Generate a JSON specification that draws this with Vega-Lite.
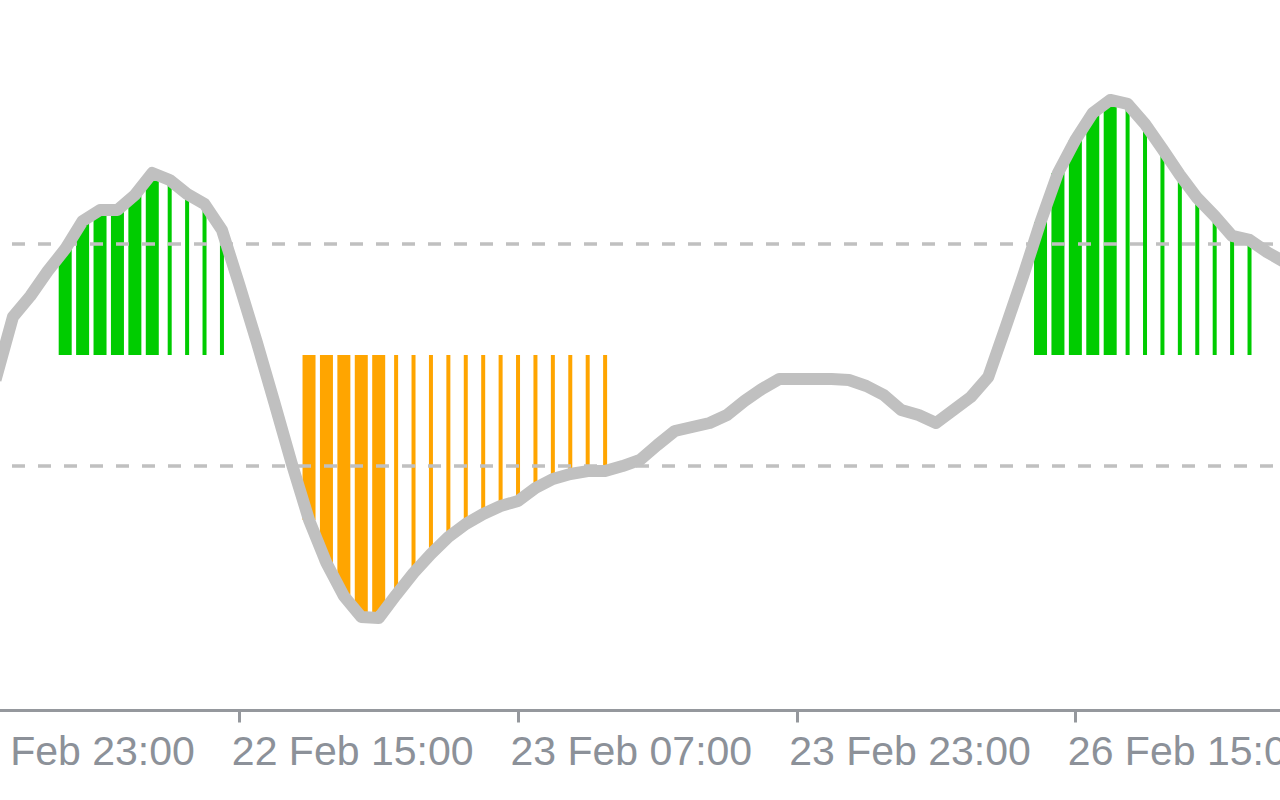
{
  "$schema": "https://vega.github.io/schema/vega-lite/v6.json",
  "width": 1280,
  "height": 710,
  "autosize": {"type": "none"},
  "padding": {"left": 0, "top": 0, "right": 0, "bottom": 90},
  "background": "#ffffff",
  "config": {
    "view": {"stroke": null},
    "axisX": {
      "title": null,
      "grid": false,
      "domainColor": "#95989d",
      "domainWidth": 3,
      "tickColor": "#95989d",
      "tickWidth": 3,
      "tickSize": 12,
      "labelFont": "Liberation Sans",
      "labelFontSize": 41,
      "labelColor": "#8c9199",
      "labelAlign": "left",
      "labelBaseline": "top",
      "labelOffset": -8,
      "labelPadding": 10,
      "labelLimit": 0,
      "labelFlush": false,
      "labelOverlap": false,
      "labelBound": false
    }
  },
  "datasets": {
    "osc": [
      {"k": -14, "v": -22.5},
      {"k": -13, "v": 34.3},
      {"k": -12, "v": 53.2},
      {"k": -11, "v": 75.7},
      {"k": -10, "v": 95.5, "sig": "up", "w": "thick"},
      {"k": -9, "v": 120.8, "sig": "up", "w": "thick"},
      {"k": -8, "v": 130.7, "sig": "up", "w": "thick"},
      {"k": -7, "v": 130.7, "sig": "up", "w": "thick"},
      {"k": -6, "v": 144.2, "sig": "up", "w": "thick"},
      {"k": -5, "v": 164.1, "sig": "up", "w": "thick"},
      {"k": -4, "v": 157.7, "sig": "up", "w": "thin"},
      {"k": -3, "v": 145.1, "sig": "up", "w": "thin"},
      {"k": -2, "v": 136.1, "sig": "up", "w": "thin"},
      {"k": -1, "v": 112.7, "sig": "up", "w": "thin"},
      {"k": 0, "v": 63.1},
      {"k": 1, "v": 11.7},
      {"k": 2, "v": -42.4},
      {"k": 3, "v": -97.4},
      {"k": 4, "v": -148.7, "sig": "down", "w": "thick"},
      {"k": 5, "v": -187.5, "sig": "down", "w": "thick"},
      {"k": 6, "v": -217.2, "sig": "down", "w": "thick"},
      {"k": 7, "v": -236.2, "sig": "down", "w": "thick"},
      {"k": 8, "v": -237.1, "sig": "down", "w": "thick"},
      {"k": 9, "v": -216.3, "sig": "down", "w": "thin"},
      {"k": 10, "v": -196.5, "sig": "down", "w": "thin"},
      {"k": 11, "v": -179.4, "sig": "down", "w": "thin"},
      {"k": 12, "v": -164.1, "sig": "down", "w": "thin"},
      {"k": 13, "v": -152.3, "sig": "down", "w": "thin"},
      {"k": 14, "v": -143.3, "sig": "down", "w": "thin"},
      {"k": 15, "v": -136.1, "sig": "down", "w": "thin"},
      {"k": 16, "v": -131.6, "sig": "down", "w": "thin"},
      {"k": 17, "v": -119.9, "sig": "down", "w": "thin"},
      {"k": 18, "v": -111.8, "sig": "down", "w": "thin"},
      {"k": 19, "v": -107.3, "sig": "down", "w": "thin"},
      {"k": 20, "v": -104.6, "sig": "down", "w": "thin"},
      {"k": 21, "v": -104.6, "sig": "down", "w": "thin"},
      {"k": 22, "v": -100.1},
      {"k": 23, "v": -94.6},
      {"k": 24, "v": -81.1},
      {"k": 25, "v": -68.5},
      {"k": 26, "v": -64.9},
      {"k": 27, "v": -61.3},
      {"k": 28, "v": -54.1},
      {"k": 29, "v": -41.5},
      {"k": 30, "v": -30.6},
      {"k": 31, "v": -21.6},
      {"k": 32, "v": -21.6},
      {"k": 33, "v": -21.6},
      {"k": 34, "v": -21.6},
      {"k": 35, "v": -22.5},
      {"k": 36, "v": -27.9},
      {"k": 37, "v": -36.1},
      {"k": 38, "v": -49.6},
      {"k": 39, "v": -54.1},
      {"k": 40, "v": -61.3},
      {"k": 41, "v": -49.6},
      {"k": 42, "v": -37.9},
      {"k": 43, "v": -19.8},
      {"k": 44, "v": 25.2},
      {"k": 45, "v": 71.2},
      {"k": 46, "v": 119.9, "sig": "up", "w": "thick"},
      {"k": 47, "v": 164.1, "sig": "up", "w": "thick"},
      {"k": 48, "v": 193.8, "sig": "up", "w": "thick"},
      {"k": 49, "v": 218.1, "sig": "up", "w": "thick"},
      {"k": 50, "v": 229.9, "sig": "up", "w": "thick"},
      {"k": 51, "v": 226.3, "sig": "up", "w": "thin"},
      {"k": 52, "v": 208.2, "sig": "up", "w": "thin"},
      {"k": 53, "v": 185.7, "sig": "up", "w": "thin"},
      {"k": 54, "v": 162.3, "sig": "up", "w": "thin"},
      {"k": 55, "v": 141.5, "sig": "up", "w": "thin"},
      {"k": 56, "v": 125.3, "sig": "up", "w": "thin"},
      {"k": 57, "v": 107.3, "sig": "up", "w": "thin"},
      {"k": 58, "v": 103.7, "sig": "up", "w": "thin"},
      {"k": 59, "v": 92.8},
      {"k": 60, "v": 83.8}
    ],
    "levels": [{"lvl": 100}, {"lvl": -100}]
  },
  "layer": [
    {
      "data": {"name": "osc"},
      "transform": [{"filter": "datum.w == 'thick'"}],
      "mark": {"type": "bar", "size": 13, "clip": true},
      "encoding": {
        "x": {"field": "k", "type": "quantitative", "scale": {"domain": [-16, 59.75], "range": [-39.3, 1280], "padding": 0, "nice": false, "zero": false},
          "axis": {"values": [-16, 0, 16, 32, 48], "labelExpr": "datum.value == -16 ? '21 Feb 23:00' : datum.value == 0 ? '22 Feb 15:00' : datum.value == 16 ? '23 Feb 07:00' : datum.value == 32 ? '23 Feb 23:00' : '26 Feb 15:00'"}},
        "y": {"field": "v", "type": "quantitative", "scale": {"domain": [-320, 320], "padding": 0, "nice": false, "zero": false}, "axis": null},
        "y2": {"datum": 0},
        "color": {"field": "sig", "type": "nominal", "scale": {"domain": ["up", "down"], "range": ["#00cc00", "#ffa500"]}, "legend": null}
      }
    },
    {
      "data": {"name": "osc"},
      "transform": [{"filter": "datum.w == 'thin'"}],
      "mark": {"type": "bar", "size": 4, "clip": true},
      "encoding": {
        "x": {"field": "k", "type": "quantitative",
          "axis": {"values": [-16, 0, 16, 32, 48], "labelExpr": "datum.value == -16 ? '21 Feb 23:00' : datum.value == 0 ? '22 Feb 15:00' : datum.value == 16 ? '23 Feb 07:00' : datum.value == 32 ? '23 Feb 23:00' : '26 Feb 15:00'"}},
        "y": {"field": "v", "type": "quantitative", "axis": null},
        "y2": {"datum": 0},
        "color": {"field": "sig", "type": "nominal", "legend": null}
      }
    },
    {
      "data": {"name": "levels"},
      "mark": {"type": "rule", "color": "#c0c0c0", "strokeWidth": 3.5, "strokeDash": [13, 13], "strokeDashOffset": 19},
      "encoding": {
        "y": {"field": "lvl", "type": "quantitative", "axis": null}
      }
    },
    {
      "data": {"name": "osc"},
      "mark": {"type": "line", "color": "#c0c0c0", "strokeWidth": 12, "strokeJoin": "round", "clip": true},
      "encoding": {
        "x": {"field": "k", "type": "quantitative",
          "axis": {"values": [-16, 0, 16, 32, 48], "labelExpr": "datum.value == -16 ? '21 Feb 23:00' : datum.value == 0 ? '22 Feb 15:00' : datum.value == 16 ? '23 Feb 07:00' : datum.value == 32 ? '23 Feb 23:00' : '26 Feb 15:00'"}},
        "y": {"field": "v", "type": "quantitative", "axis": null}
      }
    }
  ]
}
